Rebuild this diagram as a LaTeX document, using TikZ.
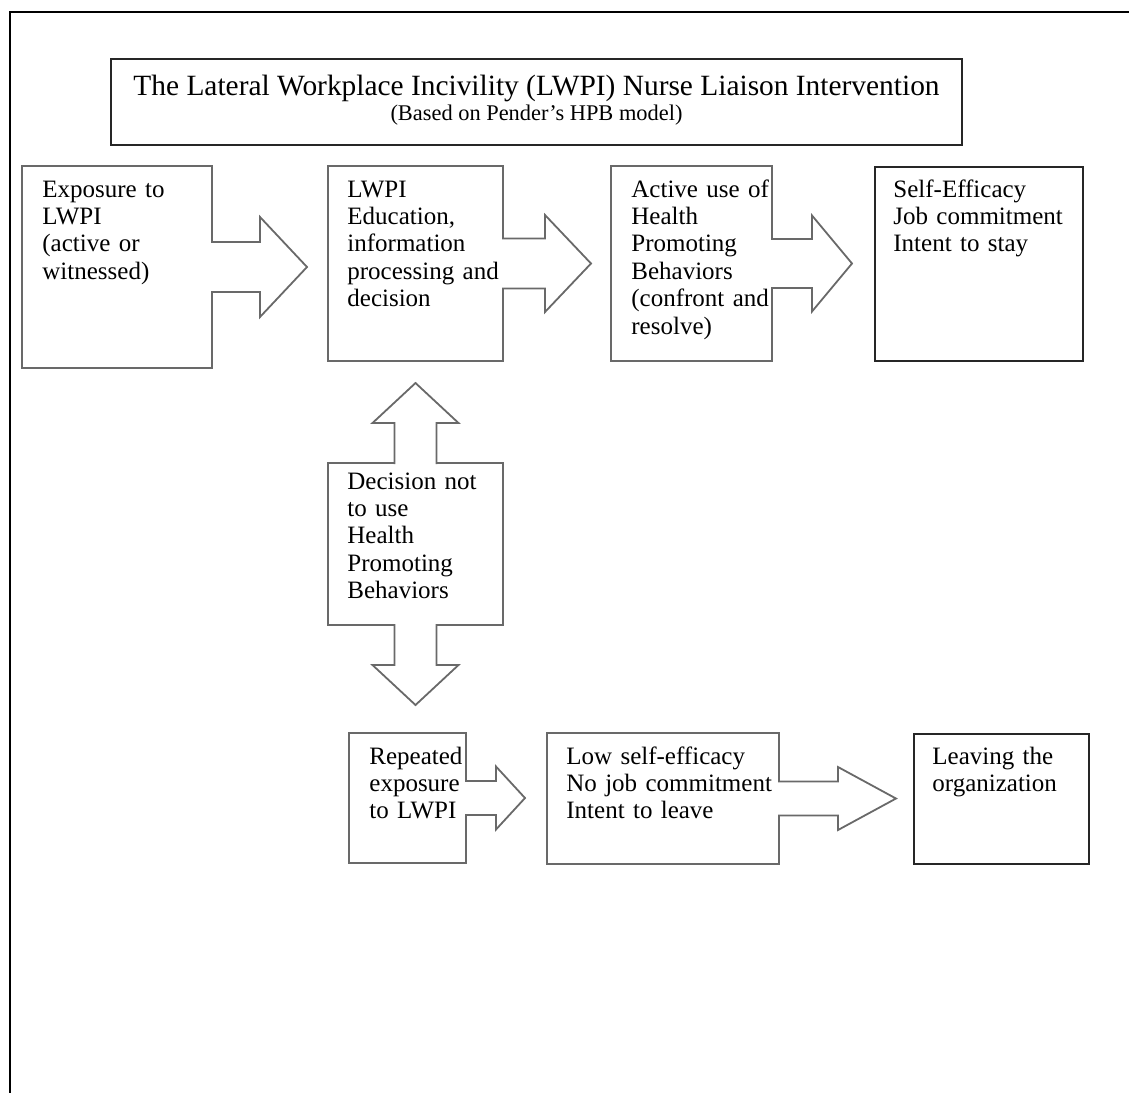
\documentclass[tikz,border=0pt]{standalone}
\usepackage{fontspec}
\setmainfont{Liberation Serif}
\definecolor{boxgray}{RGB}{105,105,105}

% block arrow stuck on the right side of a box
% #1 node, #2 shaft length, #3 half shaft, #4 head length, #5 half head
\newcommand{\calloutright}[5]{%
  \draw[shaft] (#1.east) ++(-1,-#3) -- ++(#2+1,0) -- ++(0,#3-#5)
    -- ++(#4,#5) -- ++(-#4,#5) -- ++(0,#3-#5) -- ++(-#2-1,0);}
% block arrows on top and bottom of a box
\newcommand{\calloutupdown}[5]{%
  \draw[shaft] (#1.north) ++(-#3,1) -- ++(0,-#2-1) -- ++(#3-#5,0)
    -- ++(#5,-#4) -- ++(#5,#4) -- ++(#3-#5,0) -- ++(0,#2+1);
  \draw[shaft] (#1.south) ++(-#3,-1) -- ++(0,#2+1) -- ++(#3-#5,0)
    -- ++(#5,#4) -- ++(#5,-#4) -- ++(#3-#5,0) -- ++(0,-#2-1);}

\begin{document}
\begin{tikzpicture}[x=0.5pt,y=-0.5pt]

%
% Styles
%
\tikzstyle{card} = [rectangle,draw=boxgray,line width=0.9pt,inner sep=0pt,outer sep=0pt]
\tikzstyle{goal} = [rectangle,draw=black!85,line width=0.9pt,inner sep=0pt,outer sep=0pt]
\tikzstyle{shaft} = [draw=boxgray,line width=0.9pt,fill=white,line join=miter]
\tikzstyle{words} = [anchor=base west,inner sep=0pt,text width=150pt,align=left,
                     font=\fontsize{12.5}{13.7}\selectfont]

\useasboundingbox (0,0) rectangle (1129,1093);
\draw[line width=1pt] (1129,12) -- (10,12) -- (10,1093);

% boxes
\node[goal,minimum width=425.5pt,minimum height=43pt] (head) at (536.5,102) {};
\node[card,minimum width=95pt,minimum height=101pt] (expo) at (117,267) {};
\node[card,minimum width=87.5pt,minimum height=97.5pt] (educ) at (415.5,263.5) {};
\node[card,minimum width=80.5pt,minimum height=97.5pt] (act) at (691.5,263.5) {};
\node[goal,minimum width=104pt,minimum height=97pt] (eff) at (979,264) {};
\node[card,minimum width=87.5pt,minimum height=81pt] (nouse) at (415.5,544) {};
\node[card,minimum width=58.5pt,minimum height=65pt] (rep) at (407.5,798) {};
\node[card,minimum width=116pt,minimum height=65.5pt] (low) at (663,798.5) {};
\node[goal,minimum width=87.5pt,minimum height=65pt] (leave) at (1001.5,799) {};

% arrows
\calloutright{expo}{48}{25}{47}{50}
\calloutright{educ}{42}{25}{46}{48.5}
\calloutright{act}{40}{24.5}{40}{48}
\calloutright{rep}{30}{17}{29}{31.5}
\calloutright{low}{59}{17}{58}{31.5}
\calloutupdown{nouse}{40}{21}{40}{43}

% texts
\node[anchor=base,inner sep=0pt,font=\fontsize{14.7}{17}\selectfont] (headtxt)
  at ([shift={(0,36)}]head.north) {The Lateral Workplace Incivility (LWPI) Nurse Liaison Intervention};
\node[anchor=base,inner sep=0pt,font=\fontsize{11.2}{13}\selectfont] (headsub)
  at ([shift={(0,61)}]head.north) {(Based on Pender’s HPB model)};
\node[words] (expotxt) at ([shift={(20,31)}]expo.north west) {Exposure to\\LWPI\\(active or\\witnessed)};
\node[words] (eductxt) at ([shift={(19,31)}]educ.north west) {LWPI\\Education,\\information\\processing and\\decision};
\node[words] (acttxt) at ([shift={(20,31)}]act.north west) {Active use of\\Health\\Promoting\\Behaviors\\(confront and\\resolve)};
\node[words] (efftxt) at ([shift={(18,30)}]eff.north west) {Self-Efficacy\\Job commitment\\Intent to stay};
\node[words] (nousetxt) at ([shift={(19,26)}]nouse.north west) {Decision not\\to use\\Health\\Promoting\\Behaviors};
\node[words] (reptxt) at ([shift={(20,31)}]rep.north west) {Repeated\\exposure\\to LWPI};
\node[words] (lowtxt) at ([shift={(19,31)}]low.north west) {Low self-efficacy\\No job commitment\\Intent to leave};
\node[words] (leavetxt) at ([shift={(18,30)}]leave.north west) {Leaving the\\organization};

\end{tikzpicture}
\end{document}
